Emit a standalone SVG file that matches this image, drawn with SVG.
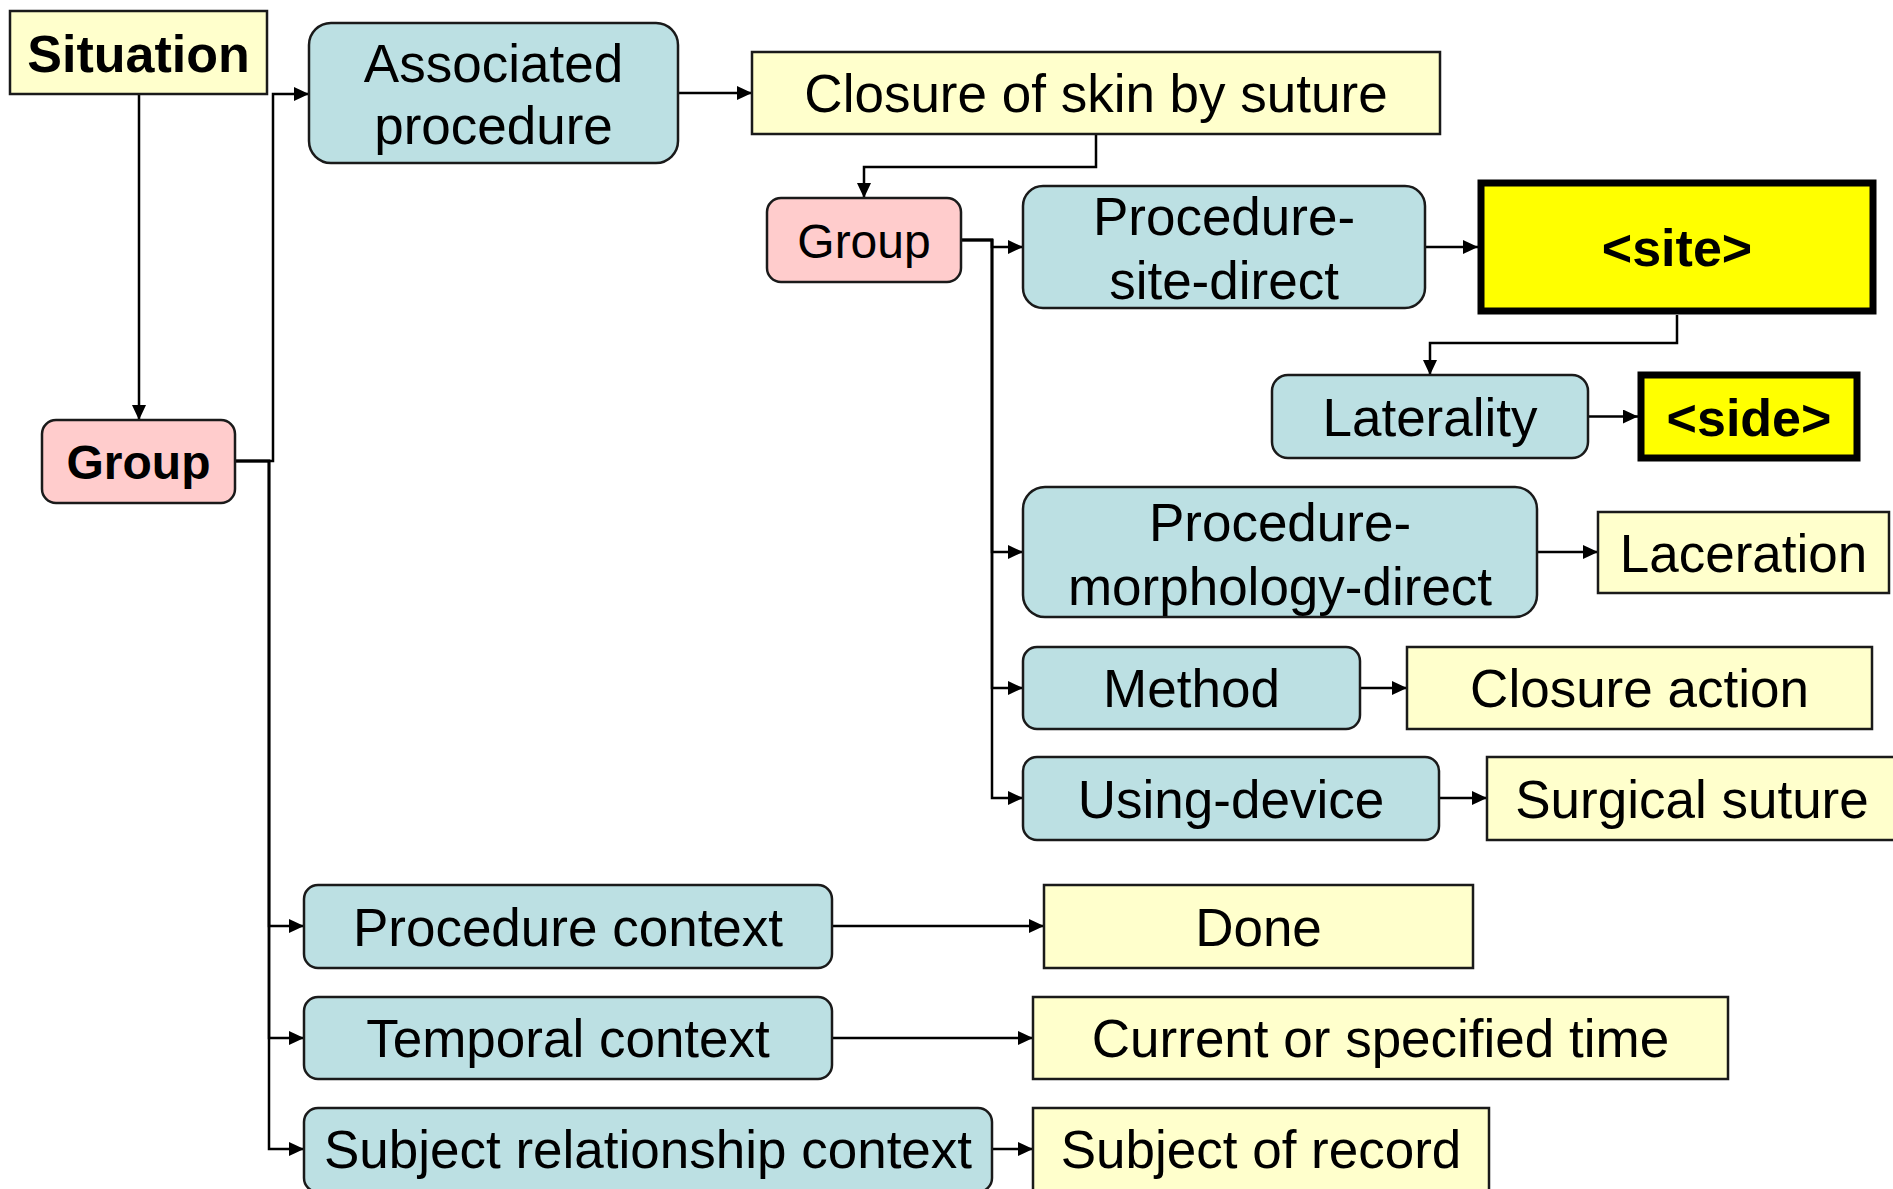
<svg xmlns="http://www.w3.org/2000/svg" width="1893" height="1189" viewBox="0 0 1893 1189">
<style>
.t{font-family:"Liberation Sans",Arial,sans-serif;font-size:53px;fill:#000;text-anchor:middle}
.g{font-size:48px}
.b{font-weight:bold;font-size:52px}
.blue{fill:#bce0e3;stroke:#1a1a1a;stroke-width:2.5}
.pink{fill:#ffcccc;stroke:#1a1a1a;stroke-width:2.5}
.pale{fill:#ffffcc;stroke:#1a1a1a;stroke-width:2.5}
.yel{fill:#ffff00;stroke:#000;stroke-width:7}
.c{fill:none;stroke:#000;stroke-width:2.5;marker-end:url(#ah)}
</style>
<defs>
<marker id="ah" markerUnits="userSpaceOnUse" markerWidth="15" markerHeight="14" refX="15" refY="7" orient="auto">
<path d="M0,0 L15,7 L0,14 z" fill="#000"/>
</marker>
</defs>
<rect width="1893" height="1189" fill="#fff"/>
<g id="connectors">
<path class="c" d="M139 94 V420"/>
<path class="c" d="M235 461 H273 V94 H309"/>
<path class="c" d="M235 461 H269 V926 H304"/>
<path class="c" d="M235 461 H269 V1038 H304"/>
<path class="c" d="M235 461 H269 V1149 H304"/>
<path class="c" d="M678 93 H752"/>
<path class="c" d="M1096 134 V167 H864 V198"/>
<path class="c" d="M961 240 H992 V247 H1023"/>
<path class="c" d="M961 240 H992 V552 H1023"/>
<path class="c" d="M961 240 H992 V688 H1023"/>
<path class="c" d="M961 240 H992 V798 H1023"/>
<path class="c" d="M1425 247 H1478"/>
<path class="c" d="M1677 315 V343 H1430 V375"/>
<path class="c" d="M1588 416.5 H1638"/>
<path class="c" d="M1537 552 H1598"/>
<path class="c" d="M1360 688 H1407"/>
<path class="c" d="M1439 798 H1487"/>
<path class="c" d="M832 926 H1044"/>
<path class="c" d="M832 1038 H1033"/>
<path class="c" d="M992 1149 H1033"/>
</g>
<g id="situation"><rect class="pale" x="10" y="11" width="257" height="83"/><text class="t b" x="138.5" y="72">Situation</text></g>
<g id="associated-procedure"><rect class="blue" x="309" y="23" width="369" height="140" rx="22"/><text class="t" x="493.5" y="82">Associated</text><text class="t" x="493.5" y="144">procedure</text></g>
<g id="closure-skin"><rect class="pale" x="752" y="52" width="688" height="82"/><text class="t" x="1096" y="112">Closure of skin by suture</text></g>
<g id="group-mid"><rect class="pink" x="767" y="198" width="194" height="84" rx="14"/><text class="t g" x="864" y="258">Group</text></g>
<g id="procedure-site-direct"><rect class="blue" x="1023" y="186" width="402" height="122" rx="20"/><text class="t" x="1224" y="235">Procedure-</text><text class="t" x="1224" y="299">site-direct</text></g>
<g id="site"><rect class="yel" x="1481" y="183" width="392" height="128"/><text class="t b" x="1677" y="266">&lt;site&gt;</text></g>
<g id="laterality"><rect class="blue" x="1272" y="375" width="316" height="83" rx="16"/><text class="t" x="1430" y="435.5">Laterality</text></g>
<g id="side"><rect class="yel" x="1641" y="375" width="216" height="83"/><text class="t b" x="1749" y="436">&lt;side&gt;</text></g>
<g id="group-left"><rect class="pink" x="42" y="420" width="193" height="83" rx="14"/><text class="t g b" style="font-size:48px" x="138.5" y="479">Group</text></g>
<g id="procedure-morphology-direct"><rect class="blue" x="1023" y="487" width="514" height="130" rx="22"/><text class="t" x="1280" y="541">Procedure-</text><text class="t" x="1280" y="605">morphology-direct</text></g>
<g id="laceration"><rect class="pale" x="1598" y="512" width="291" height="81"/><text class="t" x="1743.5" y="571.5">Laceration</text></g>
<g id="method"><rect class="blue" x="1023" y="647" width="337" height="82" rx="14"/><text class="t" x="1191.5" y="707">Method</text></g>
<g id="closure-action"><rect class="pale" x="1407" y="647" width="465" height="82"/><text class="t" x="1639.5" y="707">Closure action</text></g>
<g id="using-device"><rect class="blue" x="1023" y="757" width="416" height="83" rx="14"/><text class="t" x="1231" y="817.5">Using-device</text></g>
<g id="surgical-suture"><rect class="pale" x="1487" y="757" width="410" height="83"/><text class="t" x="1692" y="817.5">Surgical suture</text></g>
<g id="procedure-context"><rect class="blue" x="304" y="885" width="528" height="83" rx="14"/><text class="t" x="568" y="945.5">Procedure context</text></g>
<g id="done"><rect class="pale" x="1044" y="885" width="429" height="83"/><text class="t" x="1258.5" y="945.5">Done</text></g>
<g id="temporal-context"><rect class="blue" x="304" y="997" width="528" height="82" rx="14"/><text class="t" x="568" y="1057">Temporal context</text></g>
<g id="current-time"><rect class="pale" x="1033" y="997" width="695" height="82"/><text class="t" x="1380.5" y="1057">Current or specified time</text></g>
<g id="subject-relationship-context"><rect class="blue" x="304" y="1108" width="688" height="84" rx="14"/><text class="t" x="648" y="1168">Subject relationship context</text></g>
<g id="subject-of-record"><rect class="pale" x="1033" y="1108" width="456" height="84"/><text class="t" x="1261" y="1168">Subject of record</text></g>
</svg>
